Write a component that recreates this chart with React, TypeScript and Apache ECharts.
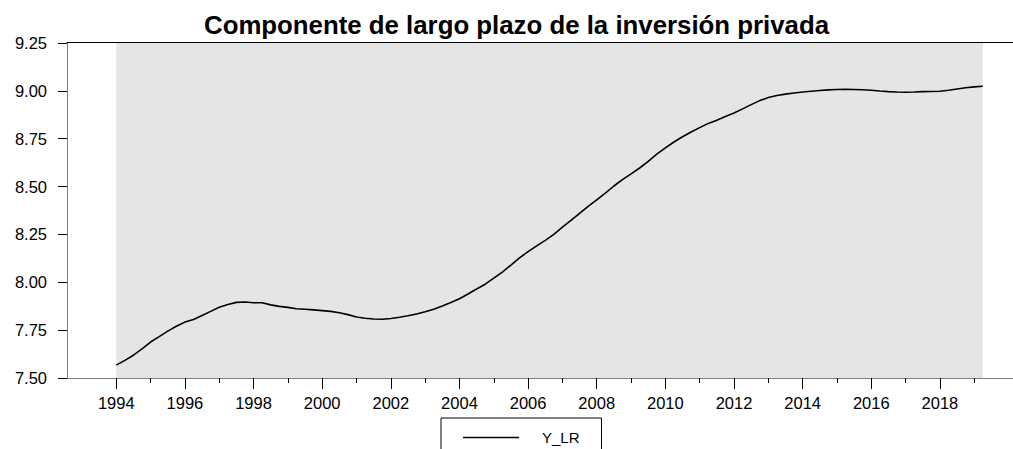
import React, { useEffect, useRef } from "react";
import * as echarts from "echarts";

const chartTitle = "Componente de largo plazo de la inversión privada";
const seriesName = "Y_LR";
const startYear = 1994;
const periodsPerYear = 4;

// Quarterly values, 1994Q1 .. 2019Q2
const yLR = [
  7.567, 7.592, 7.619, 7.652, 7.688, 7.716, 7.745, 7.770,
  7.792, 7.806, 7.827, 7.848, 7.870, 7.884, 7.895, 7.897,
  7.893, 7.893, 7.882, 7.874, 7.869, 7.862, 7.859, 7.856,
  7.852, 7.848, 7.841, 7.831, 7.819, 7.812, 7.808, 7.807,
  7.811, 7.817, 7.825, 7.834, 7.846, 7.859, 7.876, 7.894,
  7.914, 7.939, 7.965, 7.990, 8.022, 8.053, 8.090, 8.128,
  8.160, 8.190, 8.219, 8.250, 8.288, 8.323, 8.360, 8.396,
  8.431, 8.466, 8.503, 8.536, 8.566, 8.597, 8.632, 8.669,
  8.702, 8.733, 8.760, 8.785, 8.808, 8.830, 8.847, 8.866,
  8.884, 8.906, 8.928, 8.949, 8.965, 8.976, 8.983, 8.989,
  8.994, 8.998, 9.002, 9.005, 9.007, 9.008, 9.007, 9.006,
  9.003, 8.999, 8.996, 8.994, 8.993, 8.994, 8.996, 8.997,
  8.998, 9.003, 9.010, 9.016, 9.021, 9.024,
];

const yMin = 7.5;
const yMax = 9.25;
const yStep = 0.25;
const majorYears = [1994, 1996, 1998, 2000, 2002, 2004, 2006, 2008, 2010, 2012, 2014, 2016, 2018];
const minorYears = [1995, 1997, 1999, 2001, 2003, 2005, 2007, 2009, 2011, 2013, 2015, 2017, 2019];
const xMin = 1992.564;
const xMax = 2020.13;

const FONT = "'Liberation Sans', Arial, Helvetica, sans-serif";

export default function App() {
  const ref = useRef<HTMLDivElement>(null);
  useEffect(() => {
    if (!ref.current) return;
    const chart = echarts.init(ref.current, null, { renderer: "svg" });
    const points = yLR.map((v, i) => [startYear + i / periodsPerYear, v]);
    const first = points[0][0];
    const last = points[points.length - 1][0];
    chart.setOption({
      animation: false,
      backgroundColor: "#ffffff",
      textStyle: { fontFamily: FONT },
      grid: { left: 67, top: 43, right: 0, bottom: 71, containLabel: false },
      graphic: [
        {
          type: "text",
          x: 516.5,
          y: 25,
          style: {
            text: chartTitle,
            fontFamily: FONT,
            fontSize: 25.8,
            fontWeight: "bold",
            fill: "#000",
            align: "center",
            verticalAlign: "middle",
          },
        },
      ],
      legend: {
        data: [{ name: seriesName, icon: "rect" }],
        left: 441,
        top: 418,
        orient: "horizontal",
        borderColor: "#000",
        borderWidth: 1,
        borderRadius: 0,
        padding: [12, 22, 20, 22],
        itemWidth: 56,
        itemHeight: 1.5,
        itemStyle: { color: "#000", borderWidth: 0 },
        textStyle: { fontFamily: FONT, fontSize: 15, color: "#000", padding: [0, 0, 0, 18] },
      },
      xAxis: [
        {
          type: "value",
          min: xMin,
          max: xMax,
          position: "bottom",
          axisLine: { show: true, lineStyle: { color: "#808080", width: 1 } },
          axisTick: { show: true, length: 11, lineStyle: { color: "#000" }, customValues: majorYears },
          axisLabel: {
            show: true,
            customValues: majorYears,
            formatter: (v: number) => String(Math.round(v)),
            fontFamily: FONT,
            fontSize: 16.5,
            color: "#000",
            margin: 16,
          },
          splitLine: { show: false },
        },
        {
          type: "value",
          min: xMin,
          max: xMax,
          position: "bottom",
          axisLine: { show: false },
          axisTick: { show: true, length: 5, lineStyle: { color: "#000" }, customValues: minorYears },
          axisLabel: { show: false },
          splitLine: { show: false },
        },
        {
          type: "value",
          min: xMin,
          max: xMax,
          position: "top",
          offset: 1,
          axisLine: { show: true, lineStyle: { color: "#000", width: 1 } },
          axisTick: { show: false },
          axisLabel: { show: false },
          splitLine: { show: false },
        },
      ],
      yAxis: {
        type: "value",
        min: yMin,
        max: yMax,
        interval: yStep,
        axisLine: { show: true, lineStyle: { color: "#808080", width: 1 } },
        axisTick: { show: true, length: 9, lineStyle: { color: "#000" } },
        axisLabel: {
          formatter: (v: number) => v.toFixed(2),
          fontFamily: FONT,
          fontSize: 16.5,
          color: "#000",
          margin: 20,
        },
        splitLine: { show: false },
      },
      series: [
        {
          name: seriesName,
          type: "line",
          xAxisIndex: 0,
          data: points,
          symbol: "none",
          showSymbol: false,
          lineStyle: { color: "#000", width: 1.6 },
          itemStyle: { color: "#000" },
          markArea: {
            silent: true,
            itemStyle: { color: "#e5e5e5" },
            data: [[{ xAxis: first }, { xAxis: last }]],
          },
        },
      ],
    });
    return () => chart.dispose();
  }, []);
  return (
    <div
      ref={ref}
      style={{ position: "fixed", left: 0, top: 0, width: 1013, height: 449 }}
    />
  );
}
